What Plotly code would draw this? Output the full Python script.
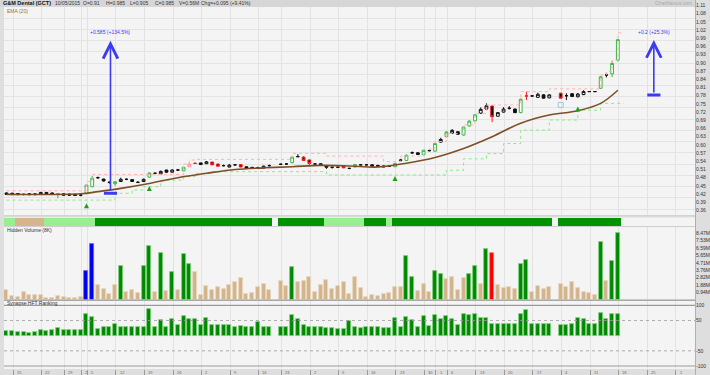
import plotly.graph_objects as go

# ---------------- data ----------------
N = 108
style = ["B","B","B","X","B","B","W","B","B","G","B","B","B","X","G","G","X","B","X","G",
         "W","X","B","X","W","G","X","W","B","W","X","G","LR","RX","B","W","R","R","X","W",
         "X","R","B","B","X","W","X",None,"X","X","G","X","R","R","X","B","B","X","X","R",
         "X","G","X","X","B","B","B","X","G","X","G","X","B","G","X","G","W","G","W","B",
         "G","G","G","W","W","R","W","W","X","B","G","RX","X","W","B","W",None,"R","X","B",
         "W","W","X","X","G","X","G","G"]
opens = [.424,.423,.422,.419,.421,.421,.419,.426,.424,.420,.421,.420,.419,.416,.423,.447,.480,.475,.463,.458,
         .466,.474,.473,.463,.466,.482,.496,.494,.508,.500,.508,.505,.520,.532,.534,.531,.537,.530,.524,.519,
         .527,.528,.520,.518,.516,.515,.524,None,.529,.530,.535,.557,.555,.545,.530,.531,.524,.518,.518,.523,
         .514,.519,.527,.527,.527,.525,.523,.522,.520,.544,.543,.571,.571,.564,.579,.577,.610,.630,.643,.648,
         .636,.669,.688,.716,.731,.742,.705,.720,.734,.731,.718,.779,.779,.774,.783,.772,None,.789,.780,.787,
         .776,.784,.795,.795,.807,.856,.860,.910]
highs = [.426,.425,.424,.421,.424,.423,.428,.428,.426,.424,.423,.422,.421,.419,.455,.486,.484,.476,.467,.467,
         .480,.477,.474,.467,.477,.499,.499,.506,.509,.511,.512,.520,.535,.537,.535,.541,.538,.531,.528,.530,
         .530,.529,.521,.519,.520,.524,.528,None,.532,.533,.557,.566,.559,.546,.533,.532,.525,.520,.521,.524,
         .516,.530,.530,.530,.529,.527,.525,.525,.534,.549,.565,.576,.573,.582,.583,.608,.626,.650,.658,.650,
         .667,.690,.713,.737,.752,.745,.720,.738,.742,.733,.769,.795,.781,.791,.785,.785,None,.791,.789,.790,
         .790,.800,.796,.796,.851,.864,.907,.985]
lows = [.418,.417,.416,.415,.416,.416,.418,.420,.419,.405,.415,.414,.413,.412,.421,.445,.476,.466,.458,.450,
        .465,.471,.465,.460,.464,.480,.493,.492,.499,.499,.505,.504,.519,.530,.527,.530,.526,.520,.521,.518,
        .524,.518,.512,.513,.513,.514,.521,None,.527,.527,.533,.555,.542,.522,.527,.526,.512,.513,.515,.515,
        .511,.518,.525,.525,.521,.519,.518,.519,.519,.538,.541,.567,.563,.562,.576,.575,.608,.628,.641,.637,
        .634,.667,.686,.714,.729,.683,.703,.718,.729,.717,.716,.764,.777,.772,.769,.771,None,.769,.764,.775,
        .774,.782,.794,.794,.805,.847,.848,.905]
closes = [.419,.418,.418,.419,.418,.418,.426,.421,.420,.421,.416,.416,.415,.416,.453,.478,.480,.468,.463,.465,
          .474,.474,.466,.463,.474,.497,.496,.503,.500,.508,.508,.518,.530,.532,.528,.538,.527,.522,.524,.526,
          .527,.519,.514,.514,.516,.522,.524,None,.529,.530,.555,.557,.543,.532,.530,.527,.518,.518,.518,.516,
          .514,.528,.527,.527,.523,.521,.520,.522,.532,.544,.562,.571,.565,.580,.579,.605,.620,.647,.653,.639,
          .665,.687,.710,.730,.743,.703,.718,.731,.734,.718,.767,.779,.779,.785,.771,.783,None,.771,.780,.777,
          .786,.795,.795,.795,.849,.856,.898,.985]

ema_x = [0, 13, 16, 20, 25, 30, 35, 40, 45, 50, 55, 60, 65, 70, 75, 80, 85, 90, 95, 100, 104, 107]
ema_y = [.419,.421,.429,.441,.459,.480,.496,.510,.516,.520,.525,.523,.519,.533,.554,.587,.630,.679,.709,.725,.752,.800]

upper_x = [0, 14, 15, 31, 32, 33, 50, 56, 66, 69, 73, 75, 77, 80, 82, 84, 90, 95, 104, 105, 106, 107, 108]
upper_y = [.432,.466,.492,.530,.545,.547,.569,.559,.539,.559,.584,.612,.642,.673,.715,.746,.795,.805,.856,.868,.910,1.01,1.01]
lower_x = [0, 19, 22, 24, 27, 31, 33, 36, 56, 77, 80, 84, 87, 90, 95, 100, 104, 108]
lower_y = [.398,.423,.435,.447,.471,.484,.496,.502,.490,.507,.549,.568,.605,.654,.691,.727,.752,.752]

up_arrow_x = [14, 25, 68, 100]
up_arrow_y = [.386, .450, .486, .740]
flag_x = [97]
flag_y = [.746]

volume = [1.24,.47,.30,.98,.60,.60,.60,.26,.26,.47,.40,.20,.20,.40,3.66,7.10,1.88,1.32,.73,1.88,
          4.30,1.02,1.20,.85,4.30,6.85,1.02,5.90,1.15,3.57,1.24,5.87,4.60,3.50,.60,1.75,1.24,1.66,1.32,1.88,
          2.30,2.73,.73,.90,1.58,2.00,1.24,None,2.38,1.75,4.13,2.26,2.38,2.86,1.02,1.88,2.50,1.32,1.75,2.26,
          .73,2.86,1.49,.38,.56,.47,.73,.81,1.66,1.58,5.57,2.86,1.10,2.00,1.02,3.70,3.28,2.60,2.90,1.24,
          2.73,3.24,4.30,2.00,6.50,5.90,1.90,1.50,1.60,1.30,4.50,5.00,1.00,1.80,1.40,1.60,None,2.00,1.60,2.30,
          1.50,1.00,.80,.60,7.30,2.38,4.97,8.55]
vol_kind = ["t"]*N
for i in [20,24,25,27,29,31,32,50,70,71,75,76,81,82,84,90,91,104,106,107]:
    vol_kind[i] = "g"
for i in [14,15]:
    vol_kind[i] = "b"
vol_kind[85] = "r"

ranking = [15,15,12,11,10,11,18,14,17,26,18,18,17,18,70,61,22,27,27,38,
           28,28,27,27,28,88,29,50,28,55,34,66,55,55,36,57,36,35,36,35,
           28,32,29,29,46,27,28,None,29,30,68,55,35,30,30,30,24,24,22,22,
           48,30,26,27,28,28,26,26,57,30,62,50,30,66,31,68,55,66,56,36,
           70,68,70,57,57,38,38,38,38,38,70,84,38,38,38,38,None,35,35,38,
           57,54,37,37,73,54,70,70]

band = (["lg"]*2 + ["tan"]*5 + ["lg"]*9 + ["dg"]*31 + [None] + ["dg"]*8 + ["lg"]*7 +
        ["dg"]*4 + ["lg"] + ["dg"]*28 + [None] + ["dg"]*11)

vol_ticks = [0.941, 1.882, 2.823, 3.764, 4.705, 5.646, 6.587, 7.528, 8.469]
vol_labels = ["0.94M","1.88M","2.82M","3.76M","4.71M","5.65M","6.59M","7.53M","8.47M"]
price_ticks = [round(0.36 + 0.03*k, 2) for k in range(26)]
x_ticks = [1, 6, 10, 13, 14, 19, 24, 29, 34, 39, 44, 48, 53, 58, 63, 68, 73, 75, 77, 82, 87, 92, 97, 102, 107, 112, 117]
x_labels = ["15","22","29","2","5","12","19","26","2","9","16","23","2","9","16","23","30","1","6","13","20","27","4","11","18","25","1"]

# ---------------- layout helpers ----------------
W, H = 710, 375
ML, MR, MT, MB = 4, 13, 0, 0
PW, PH = W - ML - MR, H - MT - MB
def px(x): return (x - ML) / PW
def py(y): return 1 - (y - MT) / PH

FONT = "Liberation Sans"
fig = go.Figure()

styles = {
    "G":  ("#3db543", "#ffffff", "#3db543", "#ffffff"),
    "W":  ("#111111", "#ffffff", "#111111", "#ffffff"),
    "B":  ("#111111", "#111111", "#111111", "#111111"),
    "R":  ("#ff1a1a", "#111111", "#ff1a1a", "#111111"),
    "X":  ("#111111", "#111111", "#111111", "#111111"),
    "RX": ("#ff1a1a", "#ff1a1a", "#ff1a1a", "#ff1a1a"),
    "LR": ("#ff8c8c", "#ffffff", "#ff8c8c", "#ffffff"),
}
for s, (il, ifl, dl, dfl) in styles.items():
    ids = [i for i in range(N) if style[i] == s]
    fig.add_trace(go.Candlestick(
        x=ids, open=[opens[i] for i in ids], high=[highs[i] for i in ids],
        low=[lows[i] for i in ids], close=[closes[i] for i in ids],
        increasing=dict(line=dict(color=il, width=1), fillcolor=ifl),
        decreasing=dict(line=dict(color=dl, width=1), fillcolor=dfl),
        whiskerwidth=0, showlegend=False, xaxis="x", yaxis="y"))

fig.add_trace(go.Scatter(x=upper_x, y=upper_y, mode="lines", line=dict(color="#ffb3b3", width=1, dash="dot", shape="hv"),
                         showlegend=False, xaxis="x", yaxis="y"))
fig.add_trace(go.Scatter(x=lower_x, y=lower_y, mode="lines", line=dict(color="#8ee88e", width=1, dash="dot", shape="hv"),
                         showlegend=False, xaxis="x", yaxis="y"))
fig.add_trace(go.Scatter(x=ema_x, y=ema_y, mode="lines", line=dict(color="#7d4f26", width=1.6, shape="spline"),
                         showlegend=False, xaxis="x", yaxis="y"))
fig.add_trace(go.Scatter(x=up_arrow_x, y=up_arrow_y, mode="markers",
                         marker=dict(symbol="arrow-up", size=5, color="#1e9e1e", line=dict(width=0)),
                         showlegend=False, xaxis="x", yaxis="y"))
fig.add_trace(go.Scatter(x=flag_x, y=flag_y, mode="markers",
                         marker=dict(symbol="square-open", size=5, color="#9cc8d8", line=dict(width=1)),
                         showlegend=False, xaxis="x", yaxis="y"))

band_col = {"lg": "#98ef90", "tan": "#d5b58e", "dg": "#009300"}
bx = [i for i in range(N) if band[i]]
fig.add_trace(go.Bar(x=bx, y=[1]*len(bx), width=1.0, marker=dict(color=[band_col[band[i]] for i in bx], line=dict(width=0)),
                     showlegend=False, xaxis="x2", yaxis="y2"))

vfill = {"t": "#d2b48c", "g": "#008a00", "b": "#0000ee", "r": "#ff0000"}
vline = {"t": "#ead8bf", "g": "#7fd07f", "b": "#6666ff", "r": "#ff8080"}
vx = [i for i in range(N) if volume[i] is not None]
fig.add_trace(go.Bar(x=vx, y=[volume[i] for i in vx], width=0.7,
                     marker=dict(color=[vfill[vol_kind[i]] for i in vx], line=dict(color=[vline[vol_kind[i]] for i in vx], width=0.8)),
                     showlegend=False, xaxis="x3", yaxis="y3"))

rx = [i for i in range(N) if ranking[i] is not None]
fig.add_trace(go.Bar(x=rx, y=[ranking[i] for i in rx], width=0.7,
                     marker=dict(color="#008a00", line=dict(color="#7fd07f", width=0.8)),
                     showlegend=False, xaxis="x4", yaxis="y4"))

xr = [(ML - 6.5) / 5.73, (W - MR - 6.5) / 5.73]
tickpos = [t + 0.15 for t in x_ticks]
common_x = dict(range=xr, tickvals=tickpos, showgrid=True, gridcolor="#e3e3e3", gridwidth=1,
                zeroline=False, showline=False, fixedrange=True)
axfont = dict(family=FONT, size=5, color="#333333")
prange = [1.11 - (215 - 5.5) / 273.3, 1.11 + 5.5 / 273.3]

fig.update_layout(
    width=W, height=H, margin=dict(l=ML, r=MR, t=MT, b=MB),
    paper_bgcolor="#dedede", plot_bgcolor="#f4f4f4",
    bargap=0, barmode="overlay",
    xaxis=dict(domain=[0, 1], anchor="y", showticklabels=False, ticks="", rangeslider=dict(visible=False), **common_x),
    xaxis2=dict(domain=[0, 1], anchor="y2", showticklabels=False, ticks="", **{**common_x, "showgrid": False}),
    xaxis3=dict(domain=[0, 1], anchor="y3", showticklabels=False, ticks="", **common_x),
    xaxis4=dict(domain=[0, 1], anchor="y4", showticklabels=False, ticks="outside",
                ticklen=5, tickcolor="#9a9a9a", tickwidth=1, **common_x),
    yaxis=dict(domain=[py(215), py(0)], range=prange, side="right",
               tickvals=price_ticks, ticktext=[f"{v:.2f}" for v in price_ticks], tickfont=axfont,
               showgrid=False, zeroline=False, ticks="", anchor="x"),
    yaxis5=dict(overlaying="y", range=prange, side="left", tick0=1.0229, dtick=0.04113,
                showticklabels=False, showgrid=True, gridcolor="#e4e4e4", zeroline=False, ticks=""),
    yaxis2=dict(domain=[py(226), py(217.5)], range=[0, 1], showticklabels=False, showgrid=False, zeroline=False, anchor="x2"),
    yaxis3=dict(domain=[py(299.7), py(227)], range=[0, 66.7 / 7.84 + 0.15 + 0.6], side="right",
                tickvals=vol_ticks, ticktext=vol_labels, tickfont=axfont, showgrid=False, zeroline=False, ticks="", anchor="x3"),
    yaxis4=dict(domain=[py(369), py(301)], range=[-100 - 3 / 0.3035, 100 + 4.3 / 0.3035], side="right",
                tickvals=[100, 50, -50, -100], ticktext=["100", "50", "-50", "-100"], tickfont=axfont,
                showgrid=False, zeroline=False, ticks="", anchor="x4"),
)
fig.add_trace(go.Scatter(x=[0], y=[prange[0]], mode="markers", marker=dict(opacity=0), showlegend=False,
                         hoverinfo="skip", xaxis="x", yaxis="y5"))

shapes = []
for v, dash, w in [(100, "solid", 1.2), (-100, "solid", 1.2), (50, "dot", 0.8), (-50, "dot", 0.8)]:
    shapes.append(dict(type="line", xref="x4 domain", yref="y4", x0=0, x1=1, y0=v, y1=v,
                       line=dict(color="#9a9a9a", width=w, dash=dash)))
for yy, col, w in [(300.3, "#a8a8a8", 1.5), (215.8, "#cfcfcf", 1), (226.6, "#cfcfcf", 1)]:
    shapes.append(dict(type="line", xref="paper", yref="paper", x0=0, x1=1, y0=py(yy), y1=py(yy),
                       line=dict(color=col, width=w)))
shapes.append(dict(type="line", xref="paper", yref="paper", x0=px(697.5), x1=px(697.5), y0=0, y1=1,
                   line=dict(color="#b0b0b0", width=1)))
shapes.append(dict(type="rect", xref="paper", yref="paper", x0=px(0), x1=px(697), y0=py(7), y1=py(0),
                   fillcolor="#d6d6d6", line=dict(width=0), layer="above"))
for xc, yb in [(18.2, .423), (113.3, .7825)]:
    shapes.append(dict(type="line", xref="x", yref="y", x0=xc - 1.15, x1=xc + 1.15, y0=yb, y1=yb,
                       line=dict(color="#3b3bf0", width=3)))
fig.update_layout(shapes=shapes)

ann = []
def txt(x, y, s, color="#222222", size=5, bold=False, anchor="left"):
    ann.append(dict(x=px(x), y=py(y), xref="paper", yref="paper", text=f"<b>{s}</b>" if bold else s,
                    showarrow=False, xanchor=anchor, yanchor="middle",
                    font=dict(family=FONT, size=size, color=color)))
txt(1, 3.5, "G&M Dental (GCT)", "#111111", 5.5, True)
txt(53, 3.5, "10/05/2015", "#333333")
txt(81, 3.5, "O=0.91", "#333333")
txt(104, 3.5, "H=0.985", "#333333")
txt(128, 3.5, "L=0.905", "#333333")
txt(153, 3.5, "C=0.985", "#333333")
txt(177, 3.5, "V=0.56M", "#333333")
txt(200, 3.5, "Chg=+0.095 (+9.41%)", "#333333")
txt(696, 3.5, "ChartNexus.com", "#a8a8a8", 5, anchor="right")
txt(5, 10.5, "EMA (20)", "#9a7040")
txt(5, 229.5, "Hidden Volume (8K)", "#333333")
txt(5, 302.8, "Synapse HFT Ranking", "#333333")

for t, lab in zip(tickpos, x_labels):
    ann.append(dict(x=t + 0.3, y=py(372.3), xref="x4", yref="paper", text=lab, showarrow=False,
                    xanchor="left", yanchor="middle", font=dict(family=FONT, size=4, color="#666666")))

for xc, yb, yt, label in [(18.2, .423, .981, "+0.585 (+134.5%)"), (113.3, .7825, .984, "+0.2 (+25.3%)")]:
    ann.append(dict(x=xc, y=yt, ax=xc, ay=yb + 0.004, xref="x", yref="y", axref="x", ayref="y", text="",
                    showarrow=True, arrowhead=5, arrowsize=1.8, arrowwidth=1.6, arrowcolor="#3b3bf0"))
    ann.append(dict(x=xc, y=yt + 0.012, xref="x", yref="y", text=label, showarrow=False, yanchor="bottom",
                    font=dict(family=FONT, size=5, color="#3b3bf0")))
fig.update_layout(annotations=ann)

fig.write_html("out.html")
